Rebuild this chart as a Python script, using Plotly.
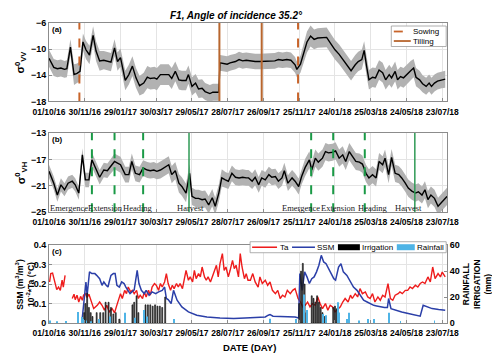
import pandas as pd
import plotly.graph_objects as go

# all dates are day offsets from the first day of the time axis
START = pd.Timestamp('2016-10-01')
END = pd.Timestamp('2018-07-31')

# (a) backscatter VV: mean and spread of the field
vv_days = [0, 8, 14, 20, 26, 30, 36, 42, 47, 52, 57, 62, 68, 74, 79, 85, 92, 98, 104, 110,
           115, 120, 128, 134, 140, 146, 152, 159, 165, 170, 177, 181, 187, 194, 201, 206, 212, 218, 223, 230,
           234, 240, 246, 251, 257, 262, 270, 275, 281, 285, 287, 293, 299, 304, 313, 319, 325, 331, 338, 346,
           354, 363, 371, 379, 385, 392, 399, 406, 413, 416, 422, 427, 433, 439, 445, 451, 458, 466, 474, 480,
           487, 494, 501, 507, 514, 519, 525, 529, 533, 537, 543, 548, 554, 560, 565, 571, 575, 581, 585, 590,
           595, 600, 607, 612, 616, 622, 627, 633, 638, 642, 647, 652, 659, 665]
vv_mean = [-11.4, -12.8, -13.0, -12.9, -13.1, -13.0, -9.7, -13.9, -13.7, -13.4, -8.9, -10.1, -10.9, -7.9, -10.3, -11.8, -11.7, -11.8, -12.0, -9.8,
           -11.9, -11.3, -14.8, -13.9, -12.6, -14.4, -15.6, -15.2, -14.3, -14.5, -14.4, -14.6, -13.9, -13.9, -13.9, -14.5, -13.4, -14.7, -14.8, -14.8,
           -13.9, -15.7, -15.2, -16.1, -16.0, -16.5, -16.8, -16.6, -16.6, -16.6, -12.1, -12.2, -12.3, -12.1, -11.9, -11.6, -11.8, -11.7, -11.8, -11.9,
           -11.9, -11.9, -11.9, -11.8, -11.6, -11.7, -11.6, -11.7, -12.4, -13.1, -12.3, -10.6, -8.9, -8.0, -8.5, -8.3, -8.3, -8.2, -9.3, -10.1,
           -10.8, -11.7, -12.6, -13.3, -12.4, -11.9, -11.6, -10.2, -12.6, -14.7, -14.3, -14.4, -13.2, -13.6, -14.7, -13.9, -14.4, -13.4, -14.7, -14.2,
           -14.4, -13.9, -13.3, -12.9, -14.3, -14.7, -15.3, -15.7, -15.2, -15.7, -15.2, -14.9, -14.7, -14.6]
vv_std = [1.3, 1.3, 1.3, 1.3, 1.3, 1.3, 1.2, 1.6, 1.5, 1.5, 1.3, 1.4, 1.4, 1.4, 1.5, 1.5, 1.4, 1.4, 1.4, 1.3,
          1.4, 1.4, 1.5, 1.5, 1.5, 1.5, 1.5, 1.6, 1.7, 1.7, 1.7, 1.7, 1.6, 1.6, 1.6, 1.6, 1.5, 1.5, 1.5, 1.5,
          1.4, 1.4, 1.4, 1.4, 1.4, 1.3, 1.3, 1.3, 1.3, 1.3, 1.2, 1.2, 1.2, 1.2, 1.2, 1.2, 1.2, 1.2, 1.2, 1.2,
          1.2, 1.2, 1.2, 1.2, 1.2, 1.2, 1.2, 1.2, 1.2, 1.2, 1.3, 1.5, 1.6, 1.6, 1.5, 1.5, 1.5, 1.5, 1.5, 1.5,
          1.5, 1.5, 1.5, 1.5, 1.5, 1.5, 1.5, 1.4, 1.5, 1.5, 1.5, 1.5, 1.5, 1.5, 1.5, 1.5, 1.5, 1.5, 1.5, 1.5,
          1.5, 1.5, 1.5, 1.4, 1.4, 1.4, 1.3, 1.3, 1.3, 1.3, 1.3, 1.3, 1.3, 1.3]

# (b) backscatter VH
vh_days = [0, 8, 14, 20, 26, 32, 39, 44, 50, 56, 61, 67, 72, 78, 85, 92, 98, 103, 110, 115,
           120, 128, 134, 139, 145, 152, 158, 165, 170, 176, 181, 187, 193, 201, 206, 212, 218, 223, 230, 236,
           240, 246, 251, 257, 262, 268, 274, 279, 285, 290, 296, 301, 307, 313, 319, 325, 331, 335, 341, 346,
           352, 357, 363, 369, 374, 380, 385, 391, 395, 401, 408, 413, 419, 424, 430, 437, 441, 447, 452, 459,
           464, 469, 476, 481, 487, 493, 498, 504, 509, 515, 521, 526, 532, 537, 543, 549, 554, 560, 564, 570,
           575, 581, 587, 592, 598, 603, 609, 615, 620, 626, 631, 636, 641, 647, 653, 658, 664, 668]
vh_mean = [-18.8, -20.6, -22.4, -20.85, -21.6, -20.6, -20.3, -20.85, -22.1, -16.3, -20.1, -20.1, -17.05, -18.3, -19.7, -18.6, -18.7, -18.1, -17.3, -17.55,
           -17.8, -19.3, -19.3, -17.3, -19.1, -19.3, -18.3, -18.6, -18.7, -18.6, -18.8, -18.6, -18.3, -17.8, -19.3, -18.7, -20.6, -21.1, -22.1, -19.1,
           -22.6, -22.9, -22.9, -23.1, -23.0, -23.9, -22.8, -24.1, -22.1, -19.8, -20.1, -20.3, -19.1, -19.7, -19.8, -19.7, -19.8, -19.8, -20.3, -19.7,
           -20.85, -19.8, -20.1, -19.3, -19.7, -19.6, -20.3, -19.8, -18.7, -20.6, -19.8, -20.3, -21.1, -19.6, -18.2, -17.05, -18.6, -16.8, -17.4, -16.8,
           -15.8, -16.0, -15.9, -15.7, -16.8, -16.3, -17.3, -15.8, -16.5, -17.3, -17.4, -17.7, -19.1, -19.8, -19.3, -19.8, -17.3, -17.8, -16.8, -19.3,
           -16.7, -19.1, -19.3, -19.8, -20.6, -21.35, -21.8, -22.1, -21.9, -22.4, -21.6, -23.1, -22.4, -22.9, -24.1, -23.6, -23.1, -22.6]
vh_std = [1.0, 1.0, 1.0, 1.0, 1.0, 1.0, 1.0, 1.0, 1.0, 1.0, 1.1, 1.1, 1.1, 1.1, 1.1, 1.1, 1.1, 1.1, 1.2, 1.2,
          1.2, 1.2, 1.2, 1.2, 1.2, 1.2, 1.2, 1.2, 1.2, 1.2, 1.2, 1.3, 1.3, 1.3, 1.3, 1.3, 1.4, 1.4, 1.4, 1.4,
          1.3, 1.3, 1.3, 1.3, 1.3, 1.3, 1.3, 1.3, 1.3, 1.3, 1.2, 1.2, 1.2, 1.2, 1.2, 1.2, 1.2, 1.2, 1.2, 1.2,
          1.2, 1.2, 1.2, 1.2, 1.2, 1.2, 1.2, 1.2, 1.2, 1.2, 1.2, 1.2, 1.2, 1.2, 1.3, 1.3, 1.3, 1.3, 1.3, 1.3,
          1.3, 1.3, 1.3, 1.3, 1.3, 1.3, 1.3, 1.3, 1.3, 1.3, 1.3, 1.3, 1.3, 1.3, 1.3, 1.3, 1.3, 1.3, 1.3, 1.3,
          1.3, 1.3, 1.3, 1.3, 1.3, 1.3, 1.3, 1.3, 1.3, 1.3, 1.3, 1.3, 1.3, 1.3, 1.3, 1.3, 1.3, 1.3]

# (c) air temperature (x 10^-2), None = missing record
ta_days = [1, 3, 6, 10, 13, 16, 19, 22, 24, 27, 33,
           39, 42, 44, 47, 50, 53, 56, 58, 61, 64, 67, 70, 72, 75, 81, 85, 89, 93, 97, 101,
           106, 110, 113, 117, 120, 123, 127, 130, 133, 137, 140, 143, 147, 150, 153, 157, 160, 163, 167, 170,
           173, 177, 180, 184, 187, 190, 194, 197, 200, 204, 207, 210, 214, 217, 220, 224, 227, 230, 234, 237,
           241, 244, 247, 251, 254, 257, 261, 264, 267, 271, 274, 277, 281, 284, 287, 291, 294, 297, 301, 304,
           308, 311, 314, 318, 321, 324, 328, 331, 334, 338, 342, 346, 351, 354, 358, 363, 367, 371, 375, 380,
           384, 388, 392, 396, 400, 405, 409, 413, 418, 422, 426, 430, 434, 438, 442, 447, 451, 455, 459, 464,
           468, 472, 476, 480, 485, 489, 493, 497, 502, 506, 509, 514, 518, 522, 526, 531, 535, 539, 543, 547,
           552, 556, 560, 564, 569, 573, 577, 581, 586, 589, 593, 598, 602, 606, 610, 615, 619, 623, 627, 631,
           636, 640, 644, 648, 653, 657, 660, 665]
ta_val = [.211, .254, .257, .211, .172, .185, .168, .22, .185, .245, None,
          .126, .148, .120, .143, .108, .137, .117, .143, .151, .131, .148, .120, .091, .074, .091, .108, .091, .066, .091, .057,
          .074, .052, .083, .117, .151, .126, .168, .151, .185, .160, .168, .151, .168, .126, .143, .126, .160, .134, .168, .143,
          .185, .203, .194, .168, .203, .185, .211, .254, .203, .168, .194, .177, .203, .185, .203, .177, .22, .271, .22, .237,
          .211, .271, .228, .254, .237, .288, .237, .22, .237, .211, .237, .262, .297, .237, .305, .357, .271, .288, .237, .271,
          .322, .28, .297, .237, .357, .288, .228, .254, .22, .22, .254, .211, .185, .237, .203, .22, .194, .211, .168, .151,
          .168, .126, .143, .134, .168, .151, .168, .177, .126, .108, .083, .091, .108, .083, .1, .091, .134, .1, .074, .1,
          .066, .091, .083, .057, .074, .083, .108, .126, .108, .143, .126, .151, .134, .177, .151, .160, .134, .126, .151, .108,
          .134, .117, .143, .134, .203, .126, .117, .143, .151, .160, .151, .168, .168, .185, .177, .194, .185, .203, .211, .203,
          .237, .211, .288, .228, .254, .237, .262, .237]

# (c) surface soil moisture (m3/m3)
ssm_days = [56, 60, 62, 64, 68, 72, 77, 80, 85, 89, 92, 96, 99, 101, 104, 108, 111, 114, 118, 122,
            126, 129, 132, 136, 139, 143, 148, 151, 155, 160, 163, 168, 173, 179, 184, 190, 194, 197, 200, 205,
            209, 215, 223, 234, 248, 265, 287, 310, 329, 355, 363, 368, 371, 376, 400, 413, 419, 421, 425, 429,
            433, 437, 441, 445, 449, 453, 457, 461, 465, 469, 474, 478, 481, 486, 490, 494, 500, 506, 511, 517,
            522, 528, 534, 539, 545, 550, 556, 563, 568, 570, 574, 581, 592, 603, 615, 623, 628, 634, 643, 654, 665]
ssm_val = [.03, .15, .211, .143, .263, .254, .254, .245, .228, .194, .211, .194, .185, .211, .245, .254, .254, .194, .185, .211,
           .203, .185, .168, .151, .16, .17, .271, .203, .168, .151, .168, .143, .16, .151, .16, .168, .185, .126, .12, .1,
           .168, .117, .083, .057, .04, .031, .026, .023, .026, .028, .031, .04, .043, .035, .033, .031, .026, .254, .168, .263,
           .237, .203, .228, .237, .263, .297, .348, .314, .305, .28, .254, .228, .22, .288, .305, .263, .245, .211, .185, .168,
           .143, .117, .108, .1, .091, .088, .083, .08, .08, .126, .074, .066, .057, .049, .04, .035, .091, .083, .074, .069, .066]

# (c) irrigation and rainfall (mm)
irr_days = [59, 61, 64, 67, 70, 73, 80, 86, 91, 95, 100, 104, 108, 112, 118, 140, 143, 147, 150, 162,
            166, 170, 174, 178, 182, 186, 190, 195, 420, 423, 426, 429, 432, 441, 444, 447, 450, 453, 456, 459,
            462, 477, 480, 483, 486]
irr_mm = [8, 15, 23, 12, 8, 5, 8, 8, 8, 16, 16, 12, 7, 8, 3, 14, 16, 21, 8, 14,
          14, 14, 13, 14, 13, 13, 12, 20, 15, 40, 46, 30, 8, 21, 19, 16, 21, 16, 12, 8,
          5, 12, 13, 11, 8]
rain_days = [1, 13, 28, 48, 55, 57, 63, 70, 84, 103, 128, 145, 160, 165, 210, 371, 415, 428, 433, 460,
             465, 485, 487, 500, 503, 520, 535, 545, 570, 590, 647]
rain_mm = [2, 1, 1.5, 8.5, 4.6, 3, 2, 1, 3, 5, 8, 4, 10, 5, 3, 3.3, 3, 22, 10, 7,
           6, 16, 8, 3, 8, 2, 3, 3, 8, 1.5, 2]

# crop calendar
sowing_days = [51, 418]
tilling_days = [286, 357]
stage_days = [72, 110, 158, 440, 477, 530]
harvest_days = [235, 614]
stage_labels = ['Emergence', 'Extension', 'Heading', 'Harvest'] * 2
stage_label_days = [2, 66, 125, 214, 391, 457, 519, 581]

W, H = 500, 355
OFF = 8  # the page draws the figure 8 px in from its top-left corner
X0, X1, Y0, Y1 = 48.5, 447.3, 23, 322.7  # plot area on the page
FONT = 'Liberation Sans'
FRAME = '#8c8c8c'
GRID = '#e4e4e4'


def dates(days):
	return [START + pd.Timedelta(days=d) for d in days]


def px_x(x):
	# page pixel -> paper x
	return (x - X0) / (X1 - X0)


def px_y(y):
	# page pixel -> paper y
	return 1 - (y - Y0) / (Y1 - Y0)


def vlines(days, y0, y1):
	xs, ys = [], []
	for d in dates(days):
		xs += [d, d, None]
		ys += [y0, y1, None]
	return xs, ys


def band(fig, days, mean, std, xa, ya):
	x = dates(days)
	fig.add_trace(go.Scatter(x=x, y=[m + s for m, s in zip(mean, std)], mode='lines', line={'width': 0},
		xaxis=xa, yaxis=ya, hoverinfo='skip'))
	fig.add_trace(go.Scatter(x=x, y=[m - s for m, s in zip(mean, std)], mode='lines', line={'width': 0},
		fill='tonexty', fillcolor='#b2b2b2', xaxis=xa, yaxis=ya, hoverinfo='skip'))
	fig.add_trace(go.Scatter(x=x, y=mean, mode='lines', line={'color': 'black', 'width': 1.4}, xaxis=xa, yaxis=ya))


def note(text, x, y, size, xanchor='center', **kw):
	# text placed in page pixels, anchored on its middle
	fig.add_annotation(xref='paper', yref='paper', x=px_x(x), y=px_y(y), text=text, showarrow=False,
		xanchor=xanchor, yanchor='middle', font=dict(kw.pop('font', {}), size=size), **kw)


fig = go.Figure()

# panel (a)
band(fig, vv_days, vv_mean, vv_std, 'x', 'y')
xs, ys = vlines(sowing_days, -18, -6)
fig.add_trace(go.Scatter(x=xs, y=ys, mode='lines', line={'color': '#c8642a', 'width': 2, 'dash': 'dash'}, xaxis='x', yaxis='y'))
xs, ys = vlines(tilling_days, -18, -6)
fig.add_trace(go.Scatter(x=xs, y=ys, mode='lines', line={'color': '#b8662e', 'width': 2}, xaxis='x', yaxis='y'))

# panel (b)
band(fig, vh_days, vh_mean, vh_std, 'x2', 'y2')
xs, ys = vlines(stage_days, -25, -13)
fig.add_trace(go.Scatter(x=xs, y=ys, mode='lines', line={'color': '#1a9a46', 'width': 2, 'dash': 'dash'}, xaxis='x2', yaxis='y2'))
xs, ys = vlines(harvest_days, -25, -13)
fig.add_trace(go.Scatter(x=xs, y=ys, mode='lines', line={'color': '#2f9a55', 'width': 1.5}, xaxis='x2', yaxis='y2'))

# panel (c)
fig.add_trace(go.Scatter(x=dates(ta_days), y=ta_val, mode='lines', line={'color': '#ee1c1c', 'width': 1.4}, xaxis='x3', yaxis='y3'))
fig.add_trace(go.Scatter(x=dates(ssm_days), y=ssm_val, mode='lines', line={'color': '#2b3fa8', 'width': 1.5}, xaxis='x3', yaxis='y3'))
fig.add_trace(go.Bar(x=dates(irr_days), y=irr_mm, width=1.6 * 86400000, marker={'color': '#555555', 'line': {'color': 'black', 'width': 0.6}},
	xaxis='x3', yaxis='y4'))
fig.add_trace(go.Bar(x=dates(rain_days), y=rain_mm, width=1.4 * 86400000, marker={'color': '#4fb4e6', 'line': {'width': 0}},
	xaxis='x3', yaxis='y4'))

# axes
xcommon = dict(type='date', range=[START, END], tick0=START, dtick=60 * 86400000, tickformat='%d/%m/%y', tickangle=0,
	showgrid=True, gridcolor=GRID, gridwidth=0.8, showline=True, linecolor=FRAME, linewidth=1, mirror=True,
	ticks='inside', ticklen=3, tickcolor=FRAME, zeroline=False, automargin=False, ticklabelstandoff=2,
	tickfont={'family': FONT, 'size': 8.5, 'color': 'black', 'weight': 'bold'})
ycommon = dict(showgrid=True, gridcolor=GRID, gridwidth=0.8, showline=True, linecolor=FRAME, linewidth=1, mirror=True,
	ticks='inside', ticklen=3, tickcolor=FRAME, zeroline=False, automargin=False,
	tickfont={'family': FONT, 'size': 9, 'color': 'black', 'weight': 'bold'})

dom_a = [px_y(101.3), 1]
dom_b = [px_y(212), px_y(133)]
dom_c = [0, px_y(245)]

fig.update_layout(
	width=W, height=H,
	margin={'l': X0 - OFF, 'r': W - (X1 - OFF), 't': Y0 - OFF, 'b': H - (Y1 - OFF), 'pad': 0},
	paper_bgcolor='white', plot_bgcolor='white', showlegend=False, barmode='overlay',
	xaxis=dict(xcommon, anchor='y'),
	xaxis2=dict(xcommon, anchor='y2', matches='x'),
	xaxis3=dict(xcommon, anchor='y3', matches='x'),
	yaxis=dict(ycommon, domain=dom_a, range=[-18, -6], tickvals=[-18, -14, -10, -6]),
	yaxis2=dict(ycommon, domain=dom_b, range=[-25, -13], tickvals=[-25, -21, -17, -13]),
	yaxis3=dict(ycommon, domain=dom_c, range=[0, 0.4], tickvals=[0, 0.1, 0.2, 0.3, 0.4], ticktext=['0', '0.1', '0.2', '0.3', '0.4']),
	yaxis4=dict(ycommon, overlaying='y3', side='right', range=[0, 60], tickvals=[0, 20, 40, 60], showgrid=False, mirror=False),
)

bold = {'family': FONT, 'color': 'black', 'weight': 'bold'}
plain = {'family': FONT, 'color': 'black'}
note('<i>F1, Angle of incidence 35.2°</i>', 236, 15.5, 10, font=bold)
note('σ<sup>0</sup><sub>VV</sub>', 20, 62, 11, font=bold, textangle=-90)
note('σ<sup>0</sup><sub>VH</sub>', 20, 172.5, 11, font=bold, textangle=-90)
note('SSM (m<sup>3</sup>/m<sup>3</sup>)<br>10<sup>-2</sup>*Ta (°C)', 25, 284, 8.5, font=bold, textangle=-90)
note('RAINFALL<br>IRRIGATION<br>(mm)', 478, 284, 8.5, font=bold, textangle=-90)
note('DATE (DAY)', 249, 347, 9.5, font=bold)
note('(a)', 50, 29, 8, xanchor='left', font=bold)
note('(b)', 50, 139, 8, xanchor='left', font=bold)
note('(c)', 50, 251, 8, xanchor='left', font=bold)

# growth stage names in panel (b)
for name, d in zip(stage_labels, dates(stage_label_days)):
	fig.add_annotation(x=d, y=-24.4, xref='x2', yref='y2', text=name, showarrow=False, xanchor='left', yanchor='middle', xshift=-2,
		font={'family': 'Liberation Serif', 'size': 8.5, 'color': '#222222'})

# legend of panel (a)
fig.add_shape(type='rect', xref='paper', yref='paper', x0=px_x(391.5), x1=px_x(446.5), y0=px_y(46.5), y1=px_y(26),
	line={'color': '#9a9a9a', 'width': 0.8}, fillcolor='white')
fig.add_shape(type='line', xref='paper', yref='paper', x0=px_x(394), x1=px_x(411), y0=px_y(31.5), y1=px_y(31.5),
	line={'color': '#c8642a', 'width': 1.8, 'dash': 'dash'})
fig.add_shape(type='line', xref='paper', yref='paper', x0=px_x(394), x1=px_x(411), y0=px_y(41), y1=px_y(41),
	line={'color': '#b8662e', 'width': 1.8})
note('Sowing', 411, 31.5, 8, xanchor='left', font=plain)
note('Tilling', 411, 41, 8, xanchor='left', font=plain)

# legend of panel (c)
fig.add_shape(type='rect', xref='paper', yref='paper', x0=px_x(250), x1=px_x(446.5), y0=px_y(252.5), y1=px_y(241.5),
	line={'color': '#9a9a9a', 'width': 0.8}, fillcolor='white')
fig.add_shape(type='line', xref='paper', yref='paper', x0=px_x(252), x1=px_x(277), y0=px_y(247), y1=px_y(247),
	line={'color': '#ee1c1c', 'width': 1.5})
fig.add_shape(type='line', xref='paper', yref='paper', x0=px_x(292), x1=px_x(315), y0=px_y(247), y1=px_y(247),
	line={'color': '#2b3fa8', 'width': 1.5})
fig.add_shape(type='rect', xref='paper', yref='paper', x0=px_x(338), x1=px_x(360), y0=px_y(250), y1=px_y(244),
	line={'width': 0}, fillcolor='black')
fig.add_shape(type='rect', xref='paper', yref='paper', x0=px_x(397), x1=px_x(415), y0=px_y(250), y1=px_y(244),
	line={'width': 0}, fillcolor='#4fb4e6')
for txt, xx in [('Ta', 278), ('SSM', 315), ('Irrigation', 360), ('Rainfall', 415)]:
	note(txt, xx, 247, 8, xanchor='left', font=plain)

fig.write_html('out.html')
